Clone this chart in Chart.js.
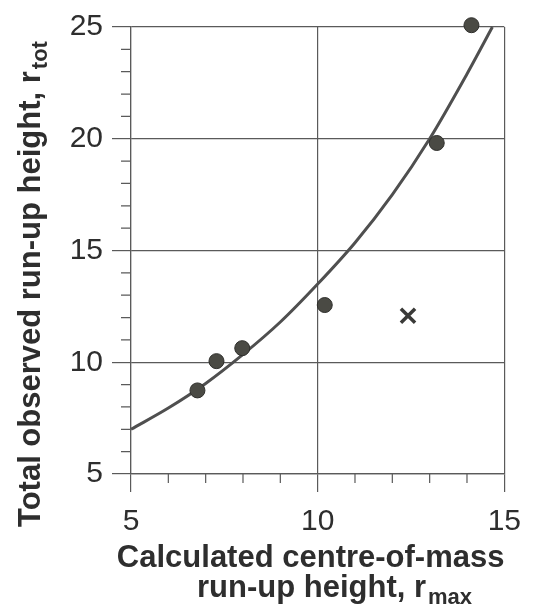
<!DOCTYPE html>
<html><head><meta charset="utf-8">
<script src="https://cdn.jsdelivr.net/npm/chart.js@4.4.1/dist/chart.umd.min.js"></script>
<style>html,body{margin:0;padding:0;background:#fff;}canvas{display:block;}</style>
</head><body>
<canvas id="c" width="533" height="606"></canvas>
<script>
// ---- data ----
const measuredX = [6.78, 7.29, 7.98, 10.19, 13.19, 14.12];
const measuredY = [8.74, 10.05, 10.63, 12.56, 19.81, 25.08];
const outlierX = [12.42];
const outlierY = [12.08];
const curveX = [5, 6, 7, 8, 9, 10, 11, 12, 13, 14, 14.68];
const curveY = [7.0, 7.95, 9.05, 10.35, 11.8, 13.5, 15.35, 17.5, 20.0, 22.9, 25.0];
const xTickLabels = [5, 10, 15];
const yTickLabels = [5, 10, 15, 20, 25];
const xTitleLine1 = 'Calculated centre-of-mass';
const xTitleLine2 = 'run-up height, r';
const xTitleSub = 'max';
const yTitleMain = 'Total observed run-up height, r';
const yTitleSub = 'tot';

const INK = '#2e2e2e';
const GRID = '#5a5a5a';
const FONT = '"Liberation Sans", Arial, Helvetica, sans-serif';

function pts(xs, ys) { return xs.map((x, i) => ({x: x, y: ys[i]})); }
const isMajor = (v) => Math.abs(v % 5) < 1e-9;

const minorTicks = {
  id: 'minorTicks',
  afterDraw(chart) {
    const {ctx, chartArea, scales} = chart;
    ctx.save();
    ctx.strokeStyle = GRID;
    ctx.lineWidth = 1.2;
    ctx.beginPath();
    scales.x.ticks.forEach(t => {
      if (isMajor(t.value)) return;
      const px = scales.x.getPixelForValue(t.value);
      ctx.moveTo(px, chartArea.bottom);
      ctx.lineTo(px, chartArea.bottom + 9);
    });
    scales.y.ticks.forEach(t => {
      if (isMajor(t.value)) return;
      const py = scales.y.getPixelForValue(t.value);
      ctx.moveTo(chartArea.left - 10, py);
      ctx.lineTo(chartArea.left, py);
    });
    ctx.stroke();
    ctx.restore();
  }
};

const axisTitles = {
  id: 'axisTitles',
  afterDraw(chart) {
    const {ctx, chartArea} = chart;
    ctx.save();
    ctx.fillStyle = INK;
    ctx.textBaseline = 'alphabetic';
    // x title
    ctx.font = 'bold 31px ' + FONT;
    ctx.textAlign = 'center';
    const cx = (chartArea.left + chartArea.right) / 2 - 7;
    ctx.fillText(xTitleLine1, cx, chartArea.bottom + 93);
    ctx.textAlign = 'left';
    const l2x = chartArea.left + 66;
    const l2y = chartArea.bottom + 123;
    ctx.fillText(xTitleLine2, l2x, l2y);
    const w2 = ctx.measureText(xTitleLine2).width;
    ctx.font = 'bold 22px ' + FONT;
    ctx.fillText(xTitleSub, l2x + w2 + 2, l2y + 7);
    // y title
    ctx.translate(40, chartArea.bottom + 53);
    ctx.rotate(-Math.PI / 2);
    ctx.font = 'bold 31px ' + FONT;
    ctx.textAlign = 'left';
    ctx.fillText(yTitleMain, 0, 0);
    const w1 = ctx.measureText(yTitleMain).width;
    ctx.font = 'bold 22px ' + FONT;
    ctx.fillText(yTitleSub, w1 + 2, 7);
    ctx.restore();
  }
};

const gridOpts = {
  color: (c) => (c.tick && isMajor(c.tick.value)) ? GRID : 'rgba(0,0,0,0)',
  tickColor: (c) => (c.tick && isMajor(c.tick.value)) ? GRID : 'rgba(0,0,0,0)',
  lineWidth: 1.2,
  tickWidth: 1.2,
};

new Chart(document.getElementById('c'), {
  type: 'scatter',
  data: {
    datasets: [
      {
        label: 'fit',
        data: pts(curveX, curveY),
        showLine: true,
        borderColor: '#4f4f4f',
        borderWidth: 3,
        pointRadius: 0,
        cubicInterpolationMode: 'monotone',
        clip: false,
        order: 3
      },
      {
        label: 'observed',
        data: pts(measuredX, measuredY),
        pointRadius: 7.5,
        pointBackgroundColor: '#4a4a44',
        pointBorderColor: '#2f2f2c',
        pointBorderWidth: 1,
        clip: false,
        order: 1
      },
      {
        label: 'outlier',
        data: pts(outlierX, outlierY),
        pointStyle: 'crossRot',
        pointRadius: 10,
        pointBorderColor: '#3a3a38',
        pointBorderWidth: 3.5,
        clip: false,
        order: 2
      }
    ]
  },
  options: {
    responsive: false,
    animation: false,
    devicePixelRatio: 1,
    layout: {padding: {left: 0, right: 26, top: 19, bottom: 0}},
    plugins: {legend: {display: false}, tooltip: {enabled: false}},
    scales: {
      x: {
        type: 'linear', min: 5, max: 15,
        afterFit: (s) => { s.height = 132; },
        ticks: {
          stepSize: 1, autoSkip: false, maxRotation: 0,
          callback: (v) => xTickLabels.includes(v) ? String(v) : '',
          color: INK, font: {family: FONT, size: 30}, padding: 12
        },
        grid: Object.assign({tickLength: 18}, gridOpts),
        border: {color: GRID, width: 1.2}
      },
      y: {
        type: 'linear', min: 5, max: 25,
        afterFit: (s) => { s.width = 131; },
        ticks: {
          stepSize: 1, autoSkip: false,
          callback: (v) => yTickLabels.includes(v) ? String(v) : '',
          color: INK, font: {family: FONT, size: 30}, padding: 9
        },
        grid: Object.assign({tickLength: 19}, gridOpts),
        border: {color: GRID, width: 1.2}
      }
    }
  },
  plugins: [minorTicks, axisTitles]
});
</script>
</body></html>
